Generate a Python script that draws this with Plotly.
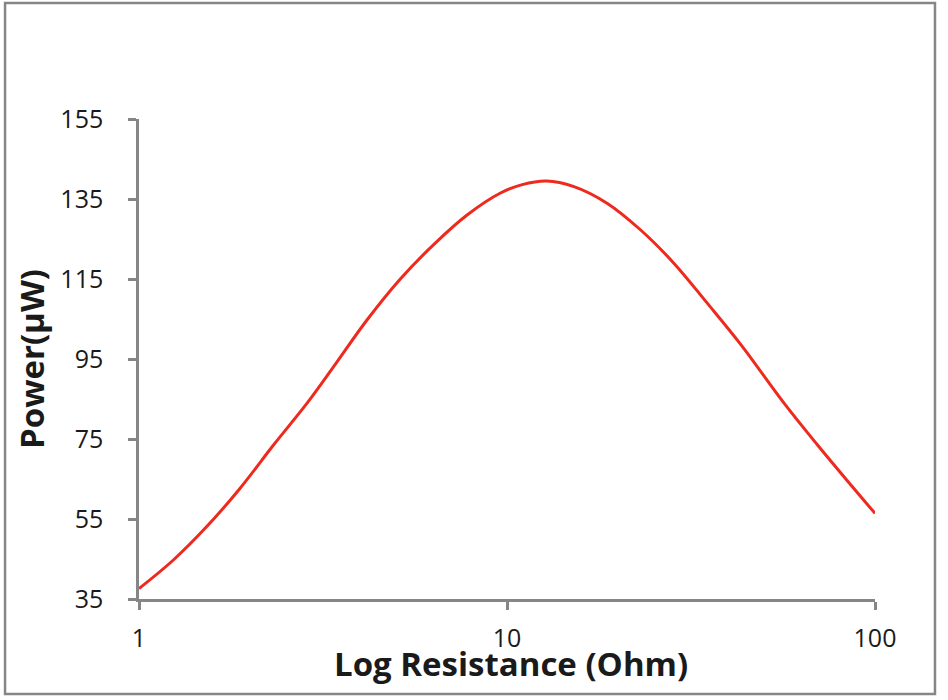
import plotly.graph_objects as go

# Data (resistance in Ohm, power in µW)
resistance = [1.0, 1.240, 1.528, 1.883, 2.320, 2.859, 3.380, 4.164, 5.13, 6.32,
              7.79, 9.60, 11.0, 12.8, 15.2, 18.74, 23.08, 28.44, 35.05, 43.2,
              56.66, 69.8, 86.0, 100.0]
power = [37.6, 44.75, 53.1, 62.7, 73.5, 83.9, 93.1, 104.75, 115.0, 123.6,
         131.0, 136.5, 138.6, 139.5, 138.1, 133.9, 127.25, 118.9, 108.9, 98.6,
         83.9, 73.5, 63.5, 56.4]

y_ticks = [35, 55, 75, 95, 115, 135, 155]
x_ticks = [1, 10, 100]
x_title = "Log Resistance (Ohm)"
y_title = "Power(μW)"

FONT = "Open Sans"
AXIS_GREY = "#868686"
TEXT = "#1a1a1a"

fig = go.Figure()
fig.add_trace(go.Scatter(
    x=resistance, y=power, mode="lines",
    line=dict(color="#EE2A1E", width=3, shape="spline", smoothing=1.0),
    showlegend=False, hoverinfo="x+y",
))

fig.update_layout(
    width=948, height=700,
    margin=dict(l=139, r=73, t=119, b=101),
    paper_bgcolor="white", plot_bgcolor="white",
    font=dict(family=FONT, color=TEXT),
    xaxis=dict(
        type="log", range=[0, 2],
        tickvals=x_ticks, ticktext=[str(v) for v in x_ticks],
        showgrid=False, zeroline=False,
        showline=True, linecolor=AXIS_GREY, linewidth=2.5,
        ticks="outside", ticklen=8, tickwidth=2.5, tickcolor=AXIS_GREY,
        tickfont=dict(size=25, family=FONT, color=TEXT),
        ticklabelstandoff=7,
    ),
    yaxis=dict(
        range=[35, 155],
        tickvals=y_ticks,
        showgrid=False, zeroline=False,
        showline=True, linecolor=AXIS_GREY, linewidth=2.5,
        ticks="outside", ticklen=8, tickwidth=2.5, tickcolor=AXIS_GREY,
        tickfont=dict(size=25, family=FONT, color=TEXT),
        ticklabelstandoff=20,
        title=dict(text="<b>" + y_title + "</b>",
                   font=dict(size=33, family=FONT, color=TEXT), standoff=6),
    ),
    annotations=[dict(
        text="<b>" + x_title + "</b>", xref="paper", yref="paper",
        x=0.505, y=-0.1354, xanchor="center", yanchor="middle",
        showarrow=False, font=dict(size=33, family=FONT, color=TEXT),
    )],
    shapes=[dict(
        type="rect", xref="paper", yref="paper",
        x0=-0.182, x1=1.0815, y0=-0.198, y1=1.2417,
        line=dict(color=AXIS_GREY, width=2.5), fillcolor="rgba(0,0,0,0)",
        layer="below",
    )],
)

fig.write_html("out.html", config={"displayModeBar": False},
               post_script="document.body.style.margin='0px';")
